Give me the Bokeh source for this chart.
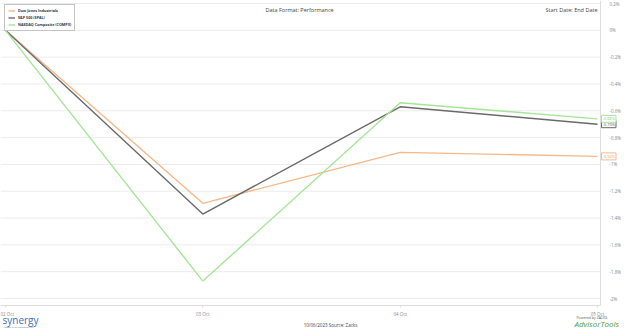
from bokeh.plotting import figure
from bokeh.models import (Range1d, LinearAxis, FixedTicker, Label, Legend, LegendItem, Div)
from bokeh.layouts import column
from bokeh.embed import file_html
from bokeh.resources import INLINE

dates = ["02 Oct", "03 Oct", "04 Oct", "05 Oct"]
dow = [0.0, -1.29, -0.91, -0.94]
sp500 = [0.0, -1.37, -0.57, -0.70]
nasdaq = [0.0, -1.87, -0.54, -0.66]
series_names = ["Dow Jones Industrials", "S&P 500 (SPAL)", "NASDAQ Composite (COMPX)"]
y_ticks = [0.2, 0.0, -0.2, -0.4, -0.6, -0.8, -1.0, -1.2, -1.4, -1.6, -1.8, -2.0]
y_tick_labels = ["0.2%", "0%", "-0.2%", "-0.4%", "-0.6%", "-0.8%", "-1%", "-1.2%",
                 "-1.4%", "-1.6%", "-1.8%", "-2%"]

FONT = "Open Sans"
colors = ["#f5b888", "#6a6a6a", "#a5e598"]
text_colors = ["#e8a070", "#555555", "#7cc86c"]

xs = list(range(len(dates)))

# layout constants (frame covers the whole canvas; axes are pinned inside it)
X0, X1 = -0.0253, 3.1368
Y0, Y1 = -2.231, 0.2224
X_AXIS_AT = 3.0152     # x position of the right-hand value axis
Y_AXIS_AT = -2.052     # y position of the date axis

p = figure(width=624, height=329, output_backend="svg", toolbar_location=None,
           x_range=Range1d(X0, X1), y_range=Range1d(Y0, Y1),
           min_border=0, min_border_left=0, min_border_right=0,
           min_border_top=0, min_border_bottom=0,
           x_axis_location=None, y_axis_location=None)
p.outline_line_color = None
p.background_fill_color = "white"
p.border_fill_color = "white"
p.xgrid.grid_line_color = None
p.ygrid.grid_line_color = None

# horizontal gridlines, limited to the plotting area
p.segment(x0=[X0] * len(y_ticks), x1=[X_AXIS_AT] * len(y_ticks), y0=y_ticks, y1=y_ticks,
          line_color="#ececec", line_width=1)

# value axis on the right
yax = LinearAxis(ticker=FixedTicker(ticks=y_ticks),
                 major_label_overrides={t: l for t, l in zip(y_ticks, y_tick_labels)},
                 fixed_location=X_AXIS_AT, bounds=(Y_AXIS_AT, Y1))
yax.axis_line_color = "#dcdcdc"
yax.major_tick_line_color = None
yax.minor_tick_line_color = None
yax.major_label_text_font = FONT
yax.major_label_text_font_size = "4.5px"
yax.major_label_text_color = "#8a8a8a"
yax.major_label_standoff = 3
p.add_layout(yax, "right")

# date axis at the bottom
xax = LinearAxis(ticker=FixedTicker(ticks=xs),
                 major_label_overrides={i: d for i, d in zip(xs, dates)},
                 fixed_location=Y_AXIS_AT, bounds=(X0, X_AXIS_AT))
xax.axis_line_color = "#dcdcdc"
xax.major_tick_line_color = "#dcdcdc"
xax.major_tick_in = 0
xax.major_tick_out = 2
xax.minor_tick_line_color = None
xax.major_label_text_font = FONT
xax.major_label_text_font_size = "4.5px"
xax.major_label_text_color = "#8a8a8a"
xax.major_label_standoff = 4
p.add_layout(xax, "below")

renderers = []
for vals, c in zip([dow, sp500, nasdaq], colors):
    r = p.line(xs, vals, line_color=c, line_width=1.4)
    renderers.append(r)

legend = Legend(items=[LegendItem(label=n, renderers=[r]) for n, r in zip(series_names, renderers)],
                location="top_left")
legend.label_text_font = FONT
legend.label_text_font_size = "3.7px"
legend.label_text_font_style = "bold"
legend.label_text_color = "#333333"
legend.glyph_width = 7
legend.glyph_height = 5
legend.label_height = 5
legend.label_standoff = 3
legend.spacing = 2
legend.padding = 3
legend.margin = 4
legend.border_line_color = "#888888"
legend.border_line_width = 1
legend.background_fill_alpha = 1
p.add_layout(legend)

# end value labels
for vals, c, tc in zip([dow, sp500, nasdaq], colors, text_colors):
    lab = Label(x=xs[-1], y=vals[-1], text=f"{vals[-1]:.2f}%", x_offset=4,
                text_font=FONT, text_font_size="4px", text_color=tc,
                text_baseline="middle", text_align="left",
                border_line_color=c, border_line_width=1, background_fill_color="white",
                padding=1)
    p.add_layout(lab)

# header texts
p.add_layout(Label(x=265, y=320, x_units="screen", y_units="screen",
                   text="Data Format: Performance",
                   text_font=FONT, text_font_size="5.5px", text_color="#444444",
                   text_baseline="middle", text_align="left"))
p.add_layout(Label(x=597, y=320, x_units="screen", y_units="screen",
                   text="Start Date: End Date",
                   text_font=FONT, text_font_size="5.5px", text_color="#444444",
                   text_baseline="middle", text_align="right"))

# footer texts
p.add_layout(Label(x=330, y=5, x_units="screen", y_units="screen",
                   text="10/06/2023 Source: Zacks",
                   text_font=FONT, text_font_size="4.5px", text_color="#444444",
                   text_baseline="middle", text_align="center"))
p.add_layout(Label(x=2, y=10, x_units="screen", y_units="screen", text="synergy",
                   text_font=FONT, text_font_size="10px", text_color="#3f6db3",
                   text_baseline="middle", text_align="left"))
p.add_layout(Label(x=3, y=3, x_units="screen", y_units="screen",
                   text="ASSET MANAGEMENT LLC",
                   text_font=FONT, text_font_size="2.5px", text_color="#3f6db3",
                   text_baseline="middle", text_align="left"))
p.add_layout(Label(x=576, y=12.5, x_units="screen", y_units="screen",
                   text="Powered by ZACKS",
                   text_font=FONT, text_font_size="3.5px", text_color="#555555",
                   text_baseline="middle", text_align="left"))
p.add_layout(Label(x=574, y=6, x_units="screen", y_units="screen", text="AdvisorTools",
                   text_font=FONT, text_font_size="8px", text_color="#4c9a3f",
                   text_font_style="italic",
                   text_baseline="middle", text_align="left"))

bar = Div(width=624, height=2, styles={"background-color": "#999999"})
layout = column(p, bar, spacing=0)

open("out.html", "w").write(file_html(layout, INLINE))
